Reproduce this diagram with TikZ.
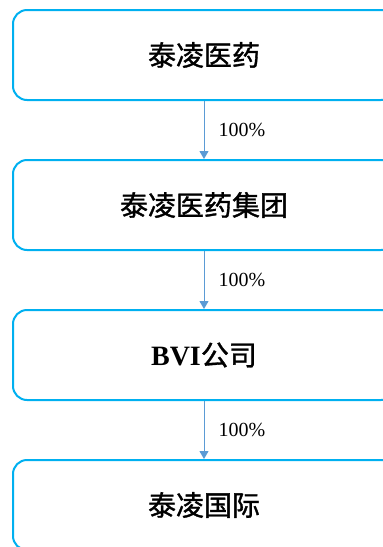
\documentclass[tikz,border=0pt]{standalone}
\usepackage{fontspec}
\setmainfont{Liberation Serif}
\newfontfamily\cjk[FakeBold=1.2]{Noto Sans CJK SC}
\usetikzlibrary{arrows.meta}
\definecolor{boxblue}{HTML}{00B0F0}
\definecolor{arrowblue}{HTML}{5B9BD5}
\begin{document}
\begin{tikzpicture}[x=1pt,y=1pt,
  entity/.style={draw=boxblue, line width=2pt, rounded corners=14pt,
    minimum width=382pt, minimum height=90pt, inner sep=0pt,
    font=\fontsize{28}{30}\selectfont\cjk},
  link/.style={draw=arrowblue, line width=1pt, -{Triangle[length=8pt,width=9pt]}},
  pct/.style={font=\fontsize{20}{22}\selectfont, inner sep=0pt}]
\useasboundingbox (0,0) rectangle (383,-547);
\clip (0,0) rectangle (383,-547);
\fill[white] (0,0) rectangle (383,-547);
\node[entity] (a) at (204,-55) {泰凌医药};
\node[entity] (b) at (204,-205) {泰凌医药集团};
\node[entity] (c) at (204,-355) {{\rmfamily\bfseries BVI}公司};
\node[entity] (d) at (204,-505) {泰凌国际};
\draw[link] (a) -- node[pct, right=14pt] {100\%} (b);
\draw[link] (b) -- node[pct, right=14pt] {100\%} (c);
\draw[link] (c) -- node[pct, right=14pt] {100\%} (d);
\end{tikzpicture}
\end{document}
